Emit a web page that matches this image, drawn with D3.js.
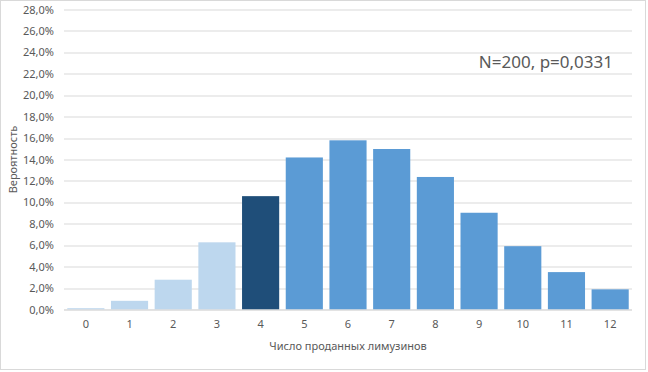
<!DOCTYPE html>
<html>
<head>
<meta charset="utf-8">
<script src="https://cdn.jsdelivr.net/npm/d3@7"></script>
<style>
  body { margin: 0; background: #fff; }
  text { font-family: "Noto Sans", "DejaVu Sans", sans-serif; fill: #595959; }
</style>
</head>
<body>
<div id="chart"></div>
<script>
var categories = ["0", "1", "2", "3", "4", "5", "6", "7", "8", "9", "10", "11", "12"];
var values = [0.0012, 0.0081, 0.0278, 0.0627, 0.1058, 0.1419, 0.1579, 0.1498, 0.1237, 0.0903, 0.0591, 0.0349, 0.0188];
var colors = ["#bdd7ee", "#bdd7ee", "#bdd7ee", "#bdd7ee", "#1f4e79", "#5b9bd5", "#5b9bd5", "#5b9bd5", "#5b9bd5", "#5b9bd5", "#5b9bd5", "#5b9bd5", "#5b9bd5"];
var yTicks = [0, 0.02, 0.04, 0.06, 0.08, 0.10, 0.12, 0.14, 0.16, 0.18, 0.20, 0.22, 0.24, 0.26, 0.28];
var note = "N=200, p=0,0331";

var W = 648, H = 372,
    margin = {top: 9.5, right: 16, bottom: 62.5, left: 64},
    width = W - margin.left - margin.right,
    height = H - margin.top - margin.bottom;

var svg = d3.select("#chart").append("svg")
  .attr("width", W)
  .attr("height", H);

// outer frame
svg.append("rect")
  .attr("x", 0.5).attr("y", 0.5)
  .attr("width", W - 3).attr("height", H - 3)
  .attr("fill", "none")
  .attr("stroke", "#d9d9d9");

var g = svg.append("g")
  .attr("transform", "translate(" + margin.left + "," + margin.top + ")");

var x = d3.scaleBand()
  .domain(categories)
  .range([0, width])
  .paddingInner(0.15)
  .paddingOuter(0.075);

var y = d3.scaleLinear()
  .domain([0, 0.28])
  .range([height, 0]);

var fmt = function (d) { return d3.format(".1f")(d * 100).replace(".", ",") + "%"; };

// gridlines
g.selectAll("line.grid")
  .data(yTicks)
  .enter().append("line")
    .attr("class", "grid")
    .attr("x1", 0)
    .attr("x2", width)
    .attr("y1", function (d) { return Math.round(y(d)) + 0.5; })
    .attr("y2", function (d) { return Math.round(y(d)) + 0.5; })
    .style("stroke", "#d9d9d9")
    .style("stroke-width", 1);

// bars
g.selectAll("rect.bar")
  .data(values)
  .enter().append("rect")
    .attr("class", "bar")
    .attr("x", function (d, i) { return x(categories[i]); })
    .attr("width", x.bandwidth())
    .attr("y", function (d) { return y(d); })
    .attr("height", function (d) { return y(0) - y(d); })
    .attr("fill", function (d, i) { return colors[i]; });

// baseline
g.append("line")
  .attr("x1", 0).attr("x2", width)
  .attr("y1", Math.round(y(0)) + 0.5).attr("y2", Math.round(y(0)) + 0.5)
  .style("stroke", "#d9d9d9");

// y axis labels
var yAxis = g.append("g")
  .call(d3.axisLeft(y).tickValues(yTicks).tickFormat(fmt).tickSize(0).tickPadding(10));
yAxis.select(".domain").remove();
yAxis.selectAll("text")
  .style("font-size", "11px")
  .attr("fill", "#595959")
  .style("font-family", "\"Noto Sans\", sans-serif");

// x axis labels
var xAxis = g.append("g")
  .attr("transform", "translate(0," + height + ")")
  .call(d3.axisBottom(x).tickSize(0).tickPadding(11));
xAxis.select(".domain").remove();
xAxis.selectAll("text")
  .style("font-size", "11px")
  .attr("fill", "#595959")
  .style("font-family", "\"Noto Sans\", sans-serif");

// axis titles
svg.append("text")
  .attr("x", margin.left + width / 2)
  .attr("y", 350)
  .attr("text-anchor", "middle")
  .style("font-size", "11px")
  .text("Число проданных лимузинов");

svg.append("text")
  .attr("transform", "translate(17," + (margin.top + height / 2) + ") rotate(-90)")
  .attr("text-anchor", "middle")
  .style("font-size", "11px")
  .text("Вероятность");

// annotation
svg.append("text")
  .attr("x", 613)
  .attr("y", 68)
  .attr("text-anchor", "end")
  .style("font-size", "17px")
  .text(note);
</script>
</body>
</html>
